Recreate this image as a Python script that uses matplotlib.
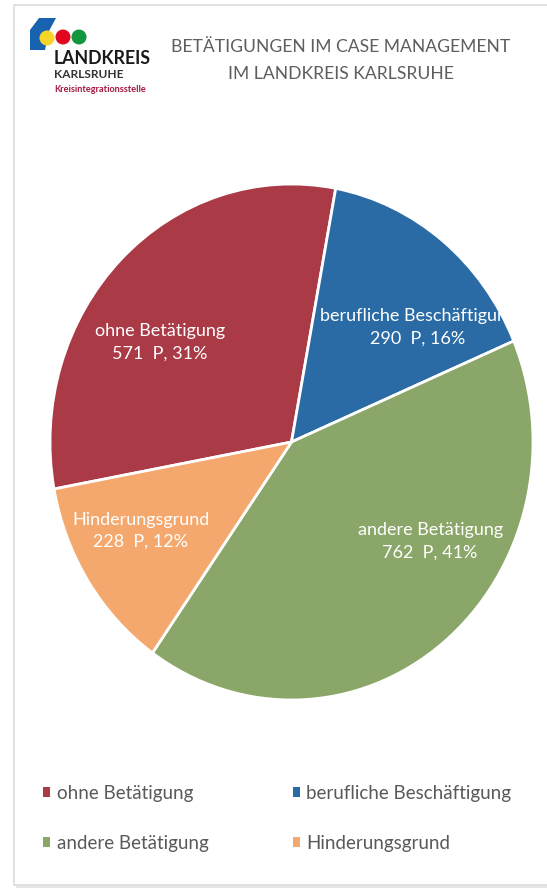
import matplotlib
matplotlib.use("Agg")
import matplotlib.pyplot as plt
from matplotlib.patches import Rectangle, Circle, Polygon

# ---- data ----
categories = ["ohne Betätigung", "berufliche Beschäftigung", "andere Betätigung", "Hinderungsgrund"]
values = [571, 290, 762, 228]
colors = ["#AB3A47", "#2A6BA6", "#8AA669", "#F5A86D"]
title_lines = ["BETÄTIGUNGEN IM CASE MANAGEMENT", "IM LANDKREIS KARLSRUHE"]

# label anchor positions (axes fraction) per slice
label_pos = [(0.227, 0.694), (0.762, 0.723), (0.787, 0.307), (0.188, 0.328)]

W, H = 547, 891
fig = plt.figure(figsize=(W / 100, H / 100), dpi=100)
fig.patch.set_facecolor("white")

FONT = ["Lato", "DejaVu Sans"]

# background / decoration axes in pixel coordinates
bg = fig.add_axes([0, 0, 1, 1])
bg.set_xlim(0, W)
bg.set_ylim(H, 0)
bg.axis("off")
bg.set_zorder(0)

# frame with shadow
bg.add_patch(Rectangle((16, 7), 560, 881, facecolor="#e6e6e6", edgecolor="none"))
bg.add_patch(Rectangle((14, 5), 560, 880, facecolor="white", edgecolor="#dcdcdc", lw=1.2))

# logo
bg.add_patch(Polygon([(39, 18), (56, 18), (49, 31), (45, 50), (30, 50), (30, 30)],
                     closed=True, facecolor="#1763B0", edgecolor="none"))
bg.add_patch(Circle((47, 38), 7.5, facecolor="#F6D52A", edgecolor="none"))
bg.add_patch(Circle((63, 37), 7.5, facecolor="#E1061F", edgecolor="none"))
bg.add_patch(Circle((79, 37), 7.5, facecolor="#12973F", edgecolor="none"))
bg.text(54, 59, "LANDKREIS", fontsize=12.8, fontweight="bold", color="#1a1a1a",
        family=FONT, ha="left", va="center")
bg.text(54, 74, "KARLSRUHE", fontsize=8.6, fontweight="bold", color="#333333",
        family=FONT, ha="left", va="center")
bg.text(54, 89, "Kreisintegrationsstelle", fontsize=6.6, fontweight="bold", color="#A3173E",
        family=FONT, ha="left", va="center")

# title
bg.text(341, 47, title_lines[0], fontsize=12.6, color="#5e5e5e", family=FONT,
        fontweight="normal", ha="center", va="center")
bg.text(341, 74, title_lines[1], fontsize=12.6, color="#5e5e5e", family=FONT,
        fontweight="normal", ha="center", va="center")

# pie axes (slightly stretched vertically as in the reference)
x0, x1, y0, y1 = 50, 533, 184, 700
ax = fig.add_axes([x0 / W, (H - y1) / H, (x1 - x0) / W, (y1 - y0) / H])
ax.set_zorder(1)
wedges, _ = ax.pie(values, colors=colors, startangle=190.5, counterclock=False,
                   radius=1.0, wedgeprops=dict(edgecolor="white", linewidth=2.0))
ax.set_aspect("auto")
ax.set_xlim(-1, 1)
ax.set_ylim(-1, 1)
ax.axis("off")

total = sum(values)
for w, name, v, (lx, ly) in zip(wedges, categories, values, label_pos):
    pct = round(100 * v / total)
    t = ax.text(lx, ly, f"{name}\n{v}  P, {pct}%", transform=ax.transAxes,
                ha="center", va="center", color="white", fontsize=13,
                family=FONT, linespacing=1.5)
    t.set_clip_path(w)

# legend (row-wise order like the reference)
order = [0, 2, 1, 3]
leg = fig.legend([wedges[i] for i in order], [categories[i] for i in order],
                 ncol=2, loc="upper left", bbox_to_anchor=(26 / W, 1 - 768 / H),
                 frameon=False, handlelength=0.4, handleheight=0.4,
                 handletextpad=0.33, columnspacing=4.5, labelspacing=1.75,
                 prop=dict(family=FONT, size=13.5))
for t in leg.get_texts():
    t.set_color("#595959")
for h in leg.legend_handles:
    h.set_edgecolor("none")

fig.savefig("out.png", dpi=100, facecolor="white")
